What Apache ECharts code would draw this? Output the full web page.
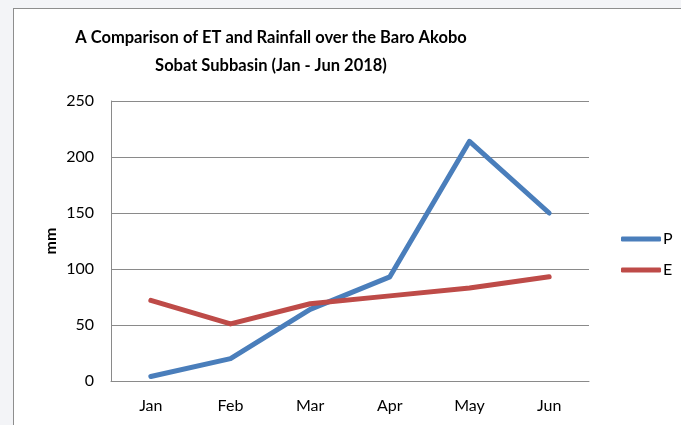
<!DOCTYPE html>
<html>
<head>
<meta charset="utf-8">
<script src="https://cdn.jsdelivr.net/npm/echarts@6/dist/echarts.min.js"></script>
<style>
  html, body { margin: 0; padding: 0; background: #f3f4f7; overflow: hidden; }
  #box {
    position: absolute; left: 13px; top: 8px;
    width: 680px; height: 430px;
    border: 1px solid #8e8e8e; background: #fff;
  }
  #chart { width: 680px; height: 430px; }
</style>
</head>
<body>
<div id="box"><div id="chart"></div></div>
<script>
const months = ["Jan", "Feb", "Mar", "Apr", "May", "Jun"];
const rainP = [4, 20, 64, 93, 214, 150];
const etE = [72, 51, 69, 76, 83, 93];
const titleLines = ["A Comparison of ET and Rainfall over the Baro Akobo", "Sobat Subbasin (Jan - Jun 2018)"];
const yName = "mm";

const font = "Lato, 'Open Sans', sans-serif";
const chartObj = echarts.init(document.getElementById("chart"));
chartObj.setOption({
  animation: false,
  textStyle: { fontFamily: font },
  graphic: [
    {
      type: "text",
      x: 257, y: 15,
      style: {
        text: titleLines.join("\n"),
        font: "bold 16.5px " + font,
        fill: "#000",
        align: "center",
        verticalAlign: "top",
        lineHeight: 28
      }
    },
    {
      // y axis title, rotated to read upward
      type: "text",
      x: 37, y: 232,
      rotation: Math.PI / 2,
      style: {
        text: yName,
        font: "bold 16px " + font,
        fill: "#000",
        align: "center",
        verticalAlign: "middle"
      }
    }
  ],
  legend: {
    orient: "vertical",
    left: 602, top: 217,
    icon: "roundRect",
    itemWidth: 40, itemHeight: 5, itemGap: 15,
    textStyle: { fontSize: 16, color: "#000", padding: [0, 0, 0, -3] },
    data: ["P", "E"]
  },
  grid: { left: 97, top: 92, width: 478, height: 280, containLabel: false },
  xAxis: {
    type: "category",
    data: months,
    axisLine: { lineStyle: { color: "#8a8a8a", width: 1 } },
    axisTick: { show: false },
    axisLabel: { fontSize: 16, color: "#000", margin: 17 }
  },
  yAxis: {
    type: "value",
    min: 0, max: 250, interval: 50,
    axisLine: { show: true, lineStyle: { color: "#8a8a8a", width: 1 } },
    axisTick: { show: false },
    axisLabel: { fontSize: 16, color: "#000", margin: 17 },
    splitLine: { lineStyle: { color: "#8a8a8a", width: 1 } }
  },
  series: [
    {
      name: "P", type: "line", data: rainP,
      symbol: "none",
      lineStyle: { color: "#4a7ebb", width: 5, cap: "round", join: "round" },
      itemStyle: { color: "#4a7ebb" }
    },
    {
      name: "E", type: "line", data: etE,
      symbol: "none",
      lineStyle: { color: "#be4b48", width: 5, cap: "round", join: "round" },
      itemStyle: { color: "#be4b48" }
    }
  ]
});
</script>
</body>
</html>
